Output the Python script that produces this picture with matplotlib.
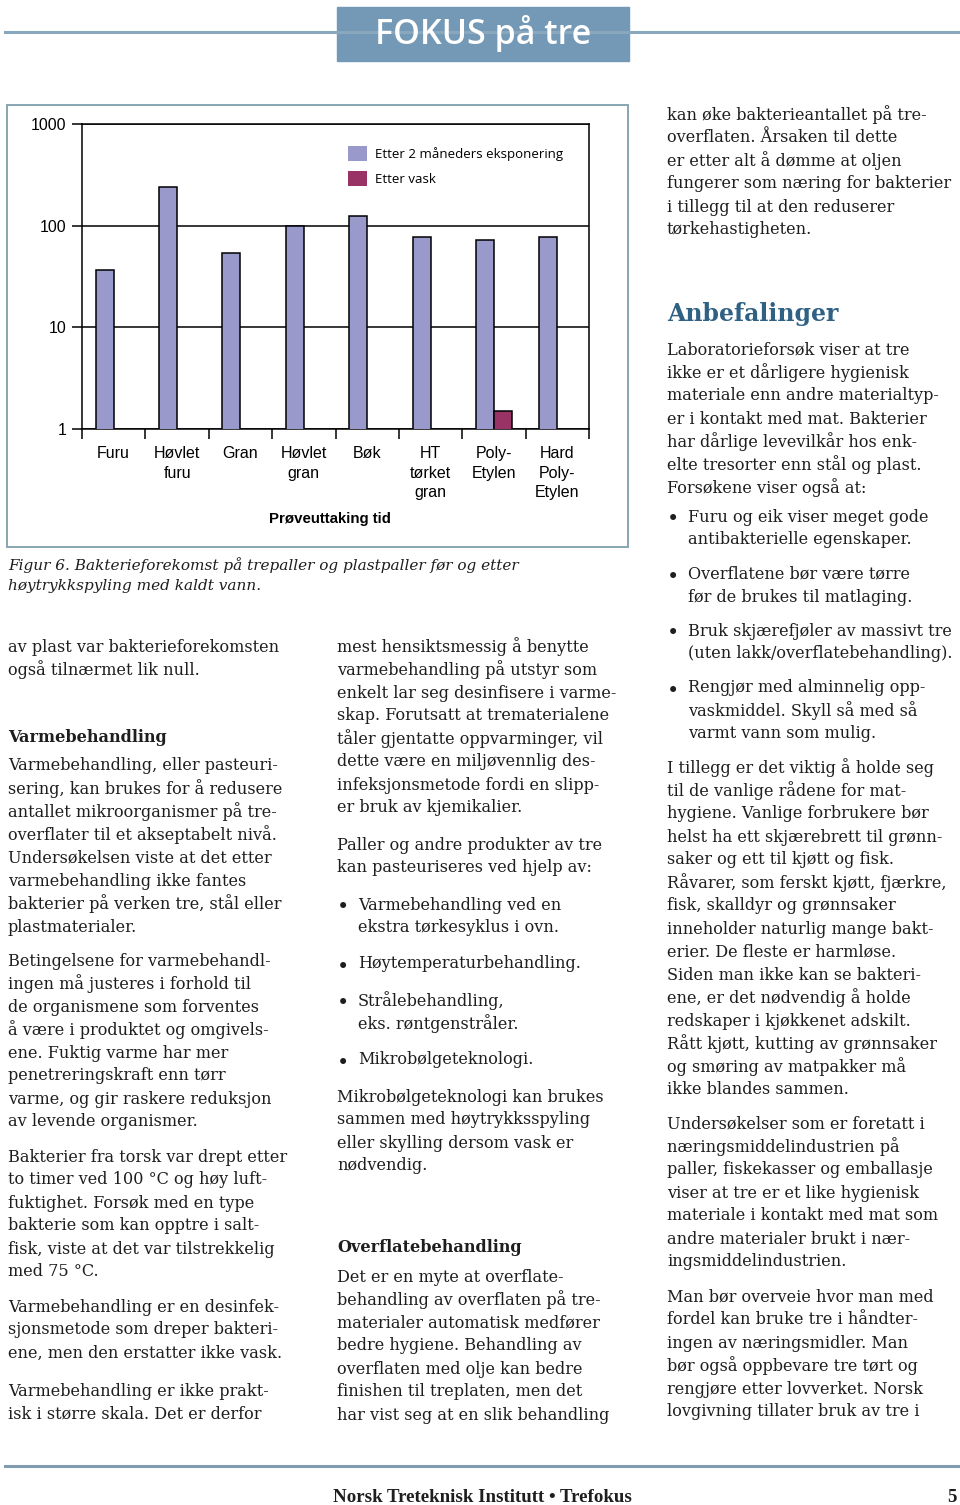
import numpy as np
import matplotlib.pyplot as plt
from matplotlib.patches import Rectangle

# data for figur 6
kategorier = ['Furu', 'Høvlet\nfuru', 'Gran', 'Høvlet\ngran', 'Bøk',
              'HT\ntørket\ngran', 'Poly-\nEtylen', 'Hard\nPoly-\nEtylen']
etter_eksponering = [37, 238, 54, 99, 124, 78, 73, 78]
etter_vask = [None, None, None, None, None, None, 1.5, None]
serie_navn = ['Etter 2 måneders eksponering', 'Etter vask']
y_ticks = [1, 10, 100, 1000]

W, H = 960, 1505
fig = plt.figure(figsize=(W / 100, H / 100), dpi=100)

# side-akser i piksler
page = fig.add_axes([0, 0, 1, 1])
page.set_xlim(0, W)
page.set_ylim(H, 0)
page.axis('off')

BLA = '#7399b6'
TEKST = '#1e1e1e'
SERIF = 'DejaVu Serif'
FS = 11.6

# topp
page.plot([5, 958], [32, 32], color='#8aa8bd', lw=2.2)
page.add_patch(Rectangle((337, 7), 292, 54, color=BLA))
page.text(483, 33, 'FOKUS på tre', color='white', fontsize=24.5, fontweight='semibold',
          family='Open Sans', ha='center', va='center')

# ramme rundt figuren
page.add_patch(Rectangle((7, 105), 621, 442, fill=False, ec='#7d9fac', lw=1.3))

# diagram
ax = fig.add_axes([82 / W, 1 - 429 / H, (589 - 82) / W, (429 - 124) / H])
x = np.arange(len(kategorier))
bw = 0.285
ax.bar(x - bw / 2, etter_eksponering, bw, color='#9999cc', edgecolor='black', lw=1.1,
       label=serie_navn[0], zorder=3)
vx = [i + bw / 2 for i, v in enumerate(etter_vask) if v is not None]
vv = [v for v in etter_vask if v is not None]
ax.bar(vx, vv, bw, color='#993366', edgecolor='black', lw=1.1, label=serie_navn[1], zorder=3)
ax.set_yscale('log')
ax.set_ylim(1, 1000)
ax.set_xlim(-0.5, len(kategorier) - 0.5)
ax.set_yticks(y_ticks)
ax.set_yticklabels([str(t) for t in y_ticks], family='Liberation Sans', fontsize=11.5)
ax.minorticks_off()
ax.set_xticks(np.arange(len(kategorier) + 1) - 0.5)
ax.set_xticklabels([])
ax.tick_params(axis='both', direction='out', length=7, width=1.1, color='black')
ax.tick_params(axis='y', pad=4)
ax.yaxis.grid(True, color='black', lw=1.1, zorder=1)
for s in ax.spines.values():
    s.set_linewidth(1.1)
for i, k in enumerate(kategorier):
    ax.text(i, -0.055, k, transform=ax.get_xaxis_transform(), ha='center', va='top',
            fontsize=11.5, family='Liberation Sans', linespacing=1.4)
ax.text(0.49, -0.295, 'Prøveuttaking tid', transform=ax.transAxes, ha='center', va='center',
        fontsize=10.8, fontweight='bold', family='Liberation Sans')
ax.legend(loc='upper left', bbox_to_anchor=((343 - 82) / (589 - 82), 0.945), frameon=False,
          prop={'family': 'Open Sans', 'size': 9.5}, handlelength=1.4, handleheight=1.4,
          handletextpad=0.65, labelspacing=0.75, borderaxespad=0)
for h in ax.get_legend().legend_handles:
    h.set_edgecolor('none')

# figurtekst
page.text(8, 565, 'Figur 6. Bakterieforekomst på trepaller og plastpaller før og etter',
          family=SERIF, style='italic', fontsize=10.95, color=TEKST, va='center')
page.text(8, 586, 'høytrykkspyling med kaldt vann.',
          family=SERIF, style='italic', fontsize=10.95, color=TEKST, va='center')


def avsnitt(x0, y0, linjer, vekt='normal'):
    for n, l in enumerate(linjer):
        page.text(x0, y0 + n * 23, l, family=SERIF, fontsize=FS, color=TEKST,
                  va='center', fontweight=vekt)


def punkt(x0, y0, linjer):
    page.text(x0 + 6, y0 + 3, '•', family=SERIF, fontsize=15, color=TEKST, va='center', ha='center')
    avsnitt(x0 + 21, y0, linjer)


# kolonne 1
c1 = 8
avsnitt(c1, 647, ['av plast var bakterieforekomsten', 'også tilnærmet lik null.'])
avsnitt(c1, 737, ['Varmebehandling'], 'bold')
avsnitt(c1, 766, ['Varmebehandling, eller pasteuri-',
                  'sering, kan brukes for å redusere',
                  'antallet mikroorganismer på tre-',
                  'overflater til et akseptabelt nivå.',
                  'Undersøkelsen viste at det etter',
                  'varmebehandling ikke fantes',
                  'bakterier på verken tre, stål eller',
                  'plastmaterialer.'])
avsnitt(c1, 961, ['Betingelsene for varmebehandl-',
                  'ingen må justeres i forhold til',
                  'de organismene som forventes',
                  'å være i produktet og omgivels-',
                  'ene. Fuktig varme har mer',
                  'penetreringskraft enn tørr',
                  'varme, og gir raskere reduksjon',
                  'av levende organismer.'])
avsnitt(c1, 1157, ['Bakterier fra torsk var drept etter',
                   'to timer ved 100 °C og høy luft-',
                   'fuktighet. Forsøk med en type',
                   'bakterie som kan opptre i salt-',
                   'fisk, viste at det var tilstrekkelig',
                   'med 75 °C.'])
avsnitt(c1, 1307, ['Varmebehandling er en desinfek-',
                   'sjonsmetode som dreper bakteri-',
                   'ene, men den erstatter ikke vask.'])
avsnitt(c1, 1391, ['Varmebehandling er ikke prakt-',
                   'isk i større skala. Det er derfor'])

# kolonne 2
c2 = 337
avsnitt(c2, 647, ['mest hensiktsmessig å benytte',
                  'varmebehandling på utstyr som',
                  'enkelt lar seg desinfisere i varme-',
                  'skap. Forutsatt at trematerialene',
                  'tåler gjentatte oppvarminger, vil',
                  'dette være en miljøvennlig des-',
                  'infeksjonsmetode fordi en slipp-',
                  'er bruk av kjemikalier.'])
avsnitt(c2, 845, ['Paller og andre produkter av tre',
                  'kan pasteuriseres ved hjelp av:'])
punkt(c2, 905, ['Varmebehandling ved en', 'ekstra tørkesyklus i ovn.'])
punkt(c2, 964, ['Høytemperaturbehandling.'])
punkt(c2, 1001, ['Strålebehandling,', 'eks. røntgenstråler.'])
punkt(c2, 1060, ['Mikrobølgeteknologi.'])
avsnitt(c2, 1097, ['Mikrobølgeteknologi kan brukes',
                   'sammen med høytrykksspyling',
                   'eller skylling dersom vask er',
                   'nødvendig.'])
avsnitt(c2, 1248, ['Overflatebehandling'], 'bold')
avsnitt(c2, 1277, ['Det er en myte at overflate-',
                   'behandling av overflaten på tre-',
                   'materialer automatisk medfører',
                   'bedre hygiene. Behandling av',
                   'overflaten med olje kan bedre',
                   'finishen til treplaten, men det',
                   'har vist seg at en slik behandling'])

# kolonne 3
c3 = 667
avsnitt(c3, 115, ['kan øke bakterieantallet på tre-',
                  'overflaten. Årsaken til dette',
                  'er etter alt å dømme at oljen',
                  'fungerer som næring for bakterier',
                  'i tillegg til at den reduserer',
                  'tørkehastigheten.'])
page.text(c3, 314, 'Anbefalinger', family=SERIF, fontsize=17, fontweight='bold',
          color='#2f6184', va='center')
avsnitt(c3, 350, ['Laboratorieforsøk viser at tre',
                  'ikke er et dårligere hygienisk',
                  'materiale enn andre materialtyp-',
                  'er i kontakt med mat. Bakterier',
                  'har dårlige levevilkår hos enk-',
                  'elte tresorter enn stål og plast.',
                  'Forsøkene viser også at:'])
punkt(c3, 517, ['Furu og eik viser meget gode', 'antibakterielle egenskaper.'])
punkt(c3, 574, ['Overflatene bør være tørre', 'før de brukes til matlaging.'])
punkt(c3, 631, ['Bruk skjærefjøler av massivt tre', '(uten lakk/overflatebehandling).'])
punkt(c3, 688, ['Rengjør med alminnelig opp-', 'vaskmiddel. Skyll så med så',
                'varmt vann som mulig.'])
avsnitt(c3, 768, ['I tillegg er det viktig å holde seg',
                  'til de vanlige rådene for mat-',
                  'hygiene. Vanlige forbrukere bør',
                  'helst ha ett skjærebrett til grønn-',
                  'saker og ett til kjøtt og fisk.',
                  'Råvarer, som ferskt kjøtt, fjærkre,',
                  'fisk, skalldyr og grønnsaker',
                  'inneholder naturlig mange bakt-',
                  'erier. De fleste er harmløse.',
                  'Siden man ikke kan se bakteri-',
                  'ene, er det nødvendig å holde',
                  'redskaper i kjøkkenet adskilt.',
                  'Rått kjøtt, kutting av grønnsaker',
                  'og smøring av matpakker må',
                  'ikke blandes sammen.'])
avsnitt(c3, 1124, ['Undersøkelser som er foretatt i',
                   'næringsmiddelindustrien på',
                   'paller, fiskekasser og emballasje',
                   'viser at tre er et like hygienisk',
                   'materiale i kontakt med mat som',
                   'andre materialer brukt i nær-',
                   'ingsmiddelindustrien.'])
avsnitt(c3, 1297, ['Man bør overveie hvor man med',
                   'fordel kan bruke tre i håndter-',
                   'ingen av næringsmidler. Man',
                   'bør også oppbevare tre tørt og',
                   'rengjøre etter lovverket. Norsk',
                   'lovgivning tillater bruk av tre i'])

# bunn
page.plot([5, 958], [1466, 1466], color='#7f9cb0', lw=2.2)
page.text(482, 1497, 'Norsk Treteknisk Institutt • Trefokus', family='Liberation Serif',
          fontsize=13.6, fontweight='bold', color=TEKST, ha='center', va='center')
page.text(952, 1497, '5', family='Liberation Serif', fontsize=13.6, fontweight='bold',
          color=TEKST, ha='center', va='center')

fig.savefig('out.png', dpi=100)
